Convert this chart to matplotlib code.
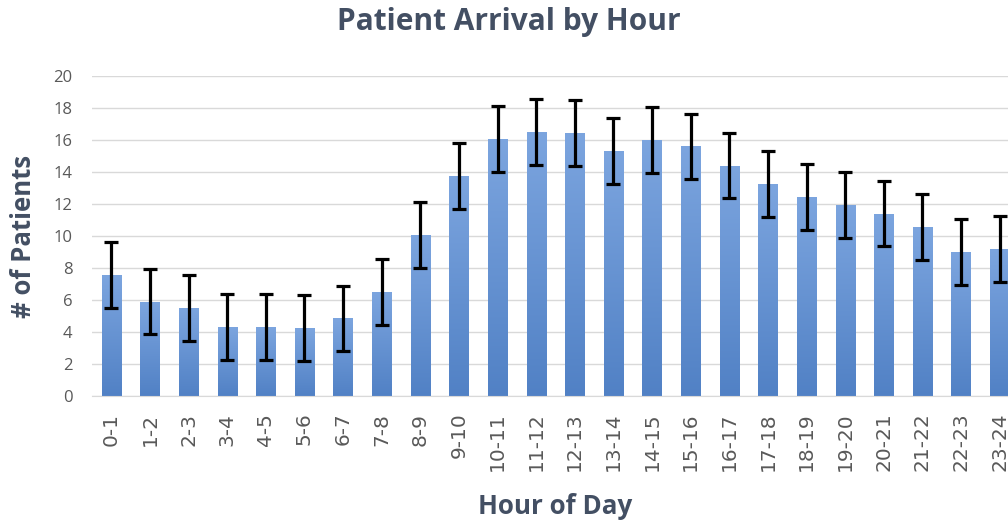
import matplotlib
matplotlib.use("Agg")
import matplotlib.pyplot as plt
import numpy as np
from matplotlib.colors import LinearSegmentedColormap

hours = ["0-1", "1-2", "2-3", "3-4", "4-5", "5-6", "6-7", "7-8", "8-9", "9-10",
         "10-11", "11-12", "12-13", "13-14", "14-15", "15-16", "16-17", "17-18",
         "18-19", "19-20", "20-21", "21-22", "22-23", "23-24"]
patients = [7.55, 5.9, 5.5, 4.3, 4.3, 4.25, 4.85, 6.5, 10.05, 13.75,
            16.05, 16.5, 16.45, 15.3, 16.0, 15.6, 14.4, 13.25,
            12.45, 11.95, 11.4, 10.55, 9.0, 9.2]
errors = [2.05] * len(hours)
yticks = list(range(0, 21, 2))

title_color = "#434F63"
tick_color = "#595959"

fig = plt.figure(figsize=(10.08, 5.23), dpi=100)
ax = fig.add_axes([92 / 1008, 127 / 523, (1019 - 92) / 1008, 320 / 523])

x = np.arange(len(hours))
bars = ax.bar(x, patients, width=0.5, color="#6A95D6", zorder=2)

cmap = LinearSegmentedColormap.from_list("g", ["#5181C5", "#7CA5DF"])
grad = np.linspace(0, 1, 256).reshape(-1, 1)
for b in bars:
    x0, y0 = b.get_x(), b.get_y()
    w, h = b.get_width(), b.get_height()
    im = ax.imshow(grad, extent=[x0, x0 + w, y0, y0 + h], origin="lower",
                   cmap=cmap, aspect="auto", zorder=2.1)
    im.set_clip_path(b)

ax.errorbar(x, patients, yerr=errors, fmt="none", ecolor="black",
            elinewidth=2.3, capsize=5, capthick=2.3, zorder=3)

ax.set_xlim(-0.5, len(hours) - 0.5)
ax.set_ylim(0, 20)
ax.set_yticks(yticks)
ax.set_yticklabels([str(t) for t in yticks], fontsize=12, color=tick_color,
                   family="Open Sans")
ax.set_xticks(x)
ax.set_xticklabels(hours, rotation=90, fontsize=14.5, color=tick_color,
                   family="DejaVu Sans")
ax.tick_params(axis="both", length=0)
ax.tick_params(axis="y", pad=14)
ax.tick_params(axis="x", pad=12)
ax.grid(axis="y", color="#D9D9D9", linewidth=1, zorder=0)
ax.set_axisbelow(True)
for s in ["top", "right", "left"]:
    ax.spines[s].set_visible(False)
ax.spines["bottom"].set_color("#D9D9D9")

fig.text(509 / 1008, 1 - 22 / 523, "Patient Arrival by Hour", ha="center",
         va="center", fontsize=21.5, fontweight="bold", color=title_color,
         family="Open Sans")
fig.text(555 / 1008, 1 - 506 / 523, "Hour of Day", ha="center", va="center",
         fontsize=18.7, fontweight="bold", color=title_color, family="Open Sans")
fig.text(24 / 1008, 1 - 236 / 523, "# of Patients", ha="center", va="center",
         rotation=90, fontsize=18.5, fontweight="bold", color=title_color,
         family="Open Sans")

fig.savefig("out.png", dpi=100)
